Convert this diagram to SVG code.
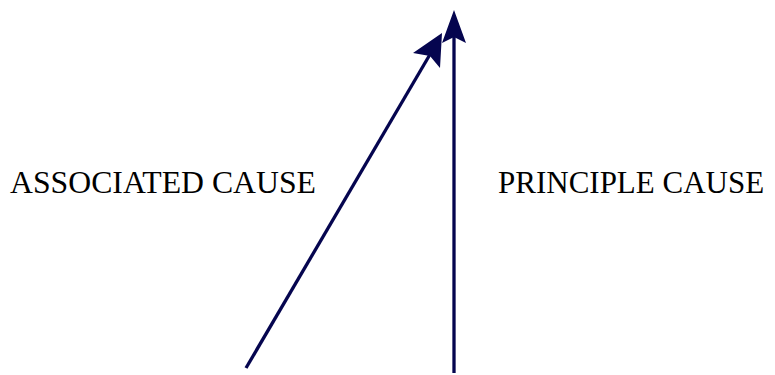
<svg xmlns="http://www.w3.org/2000/svg" width="775" height="375" viewBox="0 0 775 375">
<style>
.lbl{font-family:"Liberation Serif","Times New Roman",serif;font-size:31px;fill:#000}
.ln{stroke:#05054f;stroke-width:3.3;fill:none}
.hd{fill:#05054f}
</style>
<rect width="775" height="375" fill="#fff"/>
<g id="connectors">
<line class="ln" x1="246" y1="368" x2="432" y2="51"/>
<polygon class="hd" points="442,33 440,68 430,56 413,53"/>
<line class="ln" x1="454" y1="373" x2="454" y2="35"/>
<polygon class="hd" points="454,10 466,43 454,37 442,43"/>
</g>
<g id="associated">
<text class="lbl" x="10" y="193" textLength="306" lengthAdjust="spacingAndGlyphs">ASSOCIATED CAUSE</text>
</g>
<g id="principle">
<text class="lbl" x="498" y="193">PRINCIPLE CAUSE</text>
</g>
</svg>
